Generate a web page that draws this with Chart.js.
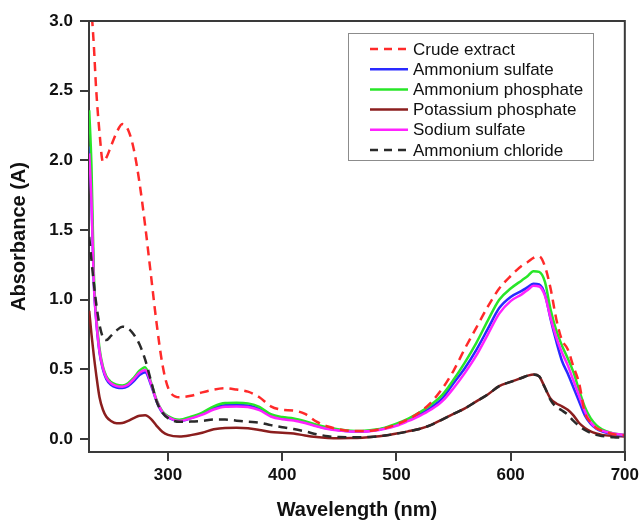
<!DOCTYPE html>
<html>
<head>
<meta charset="utf-8">
<script src="https://cdn.jsdelivr.net/npm/chart.js@4.4.1/dist/chart.umd.min.js"></script>
<style>
html,body{margin:0;padding:0;background:#fff;}
#c{display:block;}
</style>
</head>
<body>
<canvas id="c" width="643" height="522"></canvas>
<script>
const wavelengths = [231,233,235,237,240,243,246,250,255,260,265,270,275,280,285,290,295,300,310,320,330,340,350,360,370,380,390,400,410,420,430,440,450,460,470,480,490,500,510,520,530,540,550,560,570,580,590,600,610,615,620,625,630,635,640,645,650,655,660,665,670,675,680,690,700];

const crudeExtract = [3.35,3.08,2.83,2.52,2.2,1.99,2.02,2.1,2.2,2.26,2.22,2.08,1.84,1.53,1.18,0.83,0.54,0.37,0.30,0.31,0.335,0.355,0.365,0.355,0.34,0.30,0.235,0.21,0.205,0.18,0.125,0.09,0.07,0.058,0.057,0.062,0.078,0.105,0.14,0.19,0.26,0.36,0.49,0.65,0.80,0.95,1.08,1.17,1.245,1.27,1.30,1.31,1.24,1.08,0.86,0.71,0.645,0.52,0.40,0.19,0.12,0.08,0.06,0.035,0.025];

const ammoniumSulfate = [2.1,1.72,1.12,0.86,0.62,0.5,0.43,0.39,0.37,0.366,0.38,0.415,0.46,0.48,0.39,0.27,0.19,0.155,0.13,0.15,0.18,0.222,0.243,0.244,0.24,0.215,0.168,0.148,0.138,0.12,0.095,0.075,0.063,0.056,0.055,0.062,0.077,0.10,0.135,0.175,0.225,0.29,0.40,0.51,0.64,0.79,0.94,1.02,1.065,1.09,1.115,1.11,1.04,0.86,0.70,0.56,0.47,0.37,0.27,0.17,0.11,0.075,0.055,0.035,0.025];

const ammoniumPhosphate = [2.36,1.95,1.2,0.9,0.65,0.52,0.45,0.41,0.39,0.385,0.40,0.44,0.49,0.515,0.41,0.28,0.2,0.165,0.138,0.16,0.19,0.235,0.258,0.26,0.256,0.23,0.178,0.158,0.148,0.128,0.103,0.083,0.069,0.06,0.058,0.066,0.082,0.11,0.145,0.19,0.245,0.315,0.425,0.55,0.69,0.85,1.00,1.08,1.14,1.17,1.205,1.20,1.13,0.93,0.78,0.67,0.58,0.48,0.35,0.23,0.15,0.10,0.07,0.04,0.03];

const potassiumPhosphate = [0.92,0.75,0.6,0.47,0.30,0.21,0.16,0.13,0.113,0.115,0.13,0.15,0.167,0.17,0.145,0.095,0.053,0.03,0.018,0.028,0.045,0.07,0.08,0.081,0.078,0.065,0.05,0.045,0.04,0.025,0.014,0.008,0.006,0.007,0.01,0.016,0.026,0.04,0.055,0.072,0.10,0.14,0.18,0.22,0.27,0.32,0.38,0.41,0.44,0.455,0.464,0.45,0.37,0.29,0.255,0.235,0.21,0.17,0.115,0.08,0.055,0.04,0.03,0.022,0.018];

const sodiumSulfate = [2.05,1.7,1.12,0.87,0.63,0.51,0.44,0.40,0.38,0.376,0.39,0.43,0.475,0.495,0.40,0.275,0.195,0.158,0.13,0.148,0.175,0.212,0.232,0.234,0.23,0.207,0.162,0.142,0.133,0.115,0.092,0.072,0.061,0.054,0.054,0.06,0.074,0.095,0.128,0.165,0.21,0.27,0.365,0.475,0.60,0.75,0.90,0.99,1.04,1.07,1.10,1.095,1.03,0.87,0.73,0.62,0.53,0.42,0.31,0.20,0.12,0.08,0.06,0.04,0.03];

const ammoniumChloride = [1.45,1.28,1.12,0.98,0.82,0.73,0.71,0.74,0.78,0.806,0.795,0.75,0.68,0.57,0.42,0.27,0.19,0.15,0.124,0.125,0.13,0.14,0.14,0.132,0.124,0.118,0.10,0.085,0.072,0.055,0.035,0.02,0.014,0.013,0.013,0.017,0.025,0.038,0.054,0.072,0.10,0.14,0.18,0.22,0.27,0.32,0.38,0.41,0.44,0.455,0.464,0.45,0.37,0.28,0.23,0.205,0.175,0.13,0.095,0.065,0.045,0.03,0.022,0.012,0.01];

const seriesLabels = ['Crude extract','Ammonium sulfate','Ammonium phosphate','Potassium phosphate','Sodium sulfate','Ammonium chloride'];
const xTicks = [300,400,500,600,700];
const yTicks = [0.0,0.5,1.0,1.5,2.0,2.5,3.0];

const FONT = '"Liberation Sans", Arial, Helvetica, sans-serif';
const AXIS = '#3a3a3a';

function pts(vals){ return wavelengths.map((w,i)=>({x:w,y:vals[i]})); }

const styles = [
  {color:'#ff2a2a', dash:[9,6], order:0},
  {color:'#2a2aff', dash:[], order:4},
  {color:'#28e628', dash:[], order:3},
  {color:'#8b1e1e', dash:[], order:5},
  {color:'#ff22ff', dash:[], order:2},
  {color:'#2a2a2a', dash:[9,6], order:1}
];
const allSeries = [crudeExtract, ammoniumSulfate, ammoniumPhosphate, potassiumPhosphate, sodiumSulfate, ammoniumChloride];

const datasets = allSeries.map((s,i)=>({
  label: seriesLabels[i],
  data: pts(s),
  borderColor: styles[i].color,
  borderDash: styles[i].dash,
  borderWidth: 2.5,
  pointRadius: 0,
  fill: false,
  cubicInterpolationMode: 'monotone',
  order: styles[i].order,
  clip: 0
}));

const framePlugin = {
  id: 'frame',
  afterDraw(chart){
    const {ctx, chartArea:a} = chart;
    ctx.save();
    ctx.strokeStyle = AXIS; ctx.lineWidth = 2;
    ctx.beginPath();
    ctx.moveTo(a.left-1, a.top); ctx.lineTo(a.right, a.top); ctx.lineTo(a.right, a.bottom+1);
    ctx.stroke();
    ctx.restore();
  }
};

const legendPlugin = {
  id: 'boxLegend',
  afterDatasetsDraw(chart){
    const ctx = chart.ctx;
    ctx.save();
    const x0 = 348.5, y0 = 33.5, w = 245, h = 127;
    ctx.fillStyle = '#fff'; ctx.fillRect(x0,y0,w,h);
    ctx.strokeStyle = '#8c8c8c'; ctx.lineWidth = 1; ctx.strokeRect(x0,y0,w,h);
    ctx.font = '17px ' + FONT;
    ctx.textBaseline = 'middle';
    ctx.textAlign = 'left';
    chart.data.datasets.forEach((ds,i)=>{
      const y = 49 + i*20.2;
      ctx.strokeStyle = ds.borderColor; ctx.lineWidth = 2.5;
      ctx.setLineDash(ds.borderDash && ds.borderDash.length ? [8,6] : []);
      ctx.beginPath(); ctx.moveTo(370,y); ctx.lineTo(408,y); ctx.stroke();
      ctx.setLineDash([]);
      ctx.fillStyle = '#111';
      ctx.fillText(ds.label, 413, y+1);
    });
    ctx.restore();
  }
};

new Chart(document.getElementById('c'), {
  type: 'line',
  data: { datasets },
  options: {
    responsive: false,
    animation: false,
    devicePixelRatio: 1,
    layout: { padding: { top: 21, right: 16, bottom: 0, left: 0 } },
    plugins: { legend: { display: false }, tooltip: { enabled: false } },
    scales: {
      x: {
        type: 'linear',
        min: 230.8, max: 700,
        afterBuildTicks: s => { s.ticks = xTicks.map(v=>({value:v})); },
        afterFit: s => { s.height = 70; },
        grid: { drawOnChartArea: false, drawTicks: true, tickLength: 9, color: AXIS, lineWidth: 2 },
        border: { display: true, color: AXIS, width: 2 },
        ticks: { color: '#111', padding: 4, font: { family: FONT, size: 17, weight: 'bold' }, callback: v => String(v) },
        title: { display: true, text: 'Wavelength (nm)', color: '#111', padding: { top: 0, bottom: 0 }, font: { family: FONT, size: 20, weight: 'bold' } }
      },
      y: {
        type: 'linear',
        min: -0.093, max: 3.0,
        afterBuildTicks: s => { s.ticks = yTicks.map(v=>({value:v})); },
        afterFit: s => { s.width = 89; },
        grid: { drawOnChartArea: false, drawTicks: true, tickLength: 9, color: AXIS, lineWidth: 2 },
        border: { display: true, color: AXIS, width: 2 },
        ticks: { color: '#111', padding: 7, font: { family: FONT, size: 17, weight: 'bold' }, callback: v => v.toFixed(1) },
        title: { display: true, text: 'Absorbance (A)', color: '#111', padding: { top: 7.5, bottom: 0 }, font: { family: FONT, size: 20, weight: 'bold' } }
      }
    }
  },
  plugins: [legendPlugin, framePlugin]
});
</script>
</body>
</html>
